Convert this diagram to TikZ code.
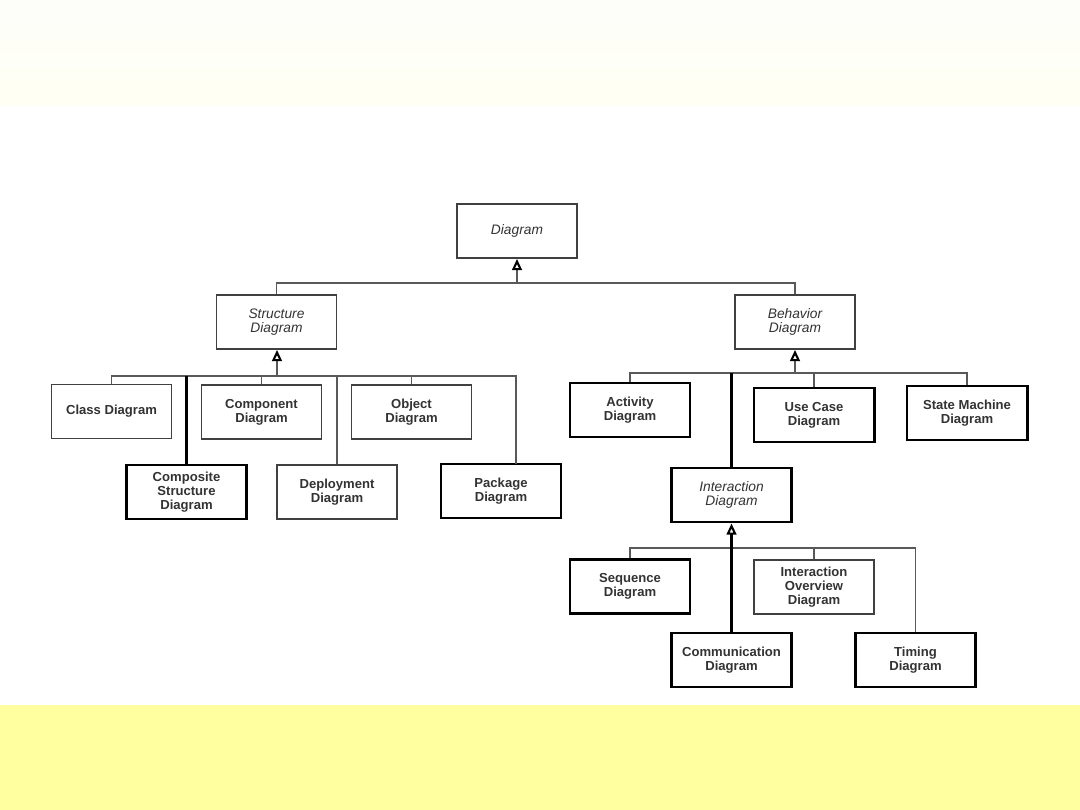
\documentclass[tikz,border=0pt]{standalone}
\usepackage{fontspec}
\setmainfont{Liberation Sans}
\usetikzlibrary{arrows.meta}

\definecolor{bandtop}{RGB}{253,254,250}
\definecolor{bandlow}{RGB}{255,255,243}
\definecolor{notebar}{RGB}{255,255,160}

\begin{document}
\begin{tikzpicture}[
    x=0.025cm, y=-0.025cm,
    diag/.style={draw=black!75, line width=1.3pt, fill=white, minimum width=3cm, minimum height=1.35cm,
                 inner sep=1pt, align=center, text=black!80, font=\fontsize{9.3}{10.2}\selectfont\bfseries},
    abstract/.style={diag, font=\fontsize{9.8}{10.2}\selectfont\itshape},
    heavy/.style={diag, draw=black, line width=2.1pt},
    link/.style={draw=black!65, line width=1.2pt},
    strong/.style={draw=black, line width=2.1pt},
    inherit/.style={-{Triangle[open, length=8pt, width=7pt, line width=1.5pt, color=black]}}
]
    % page bands
    \useasboundingbox (0,0) rectangle (1080,810);
    \shade[top color=bandtop, bottom color=bandlow] (0,0) rectangle (1080,105);
    \fill[notebar] (0,705) rectangle (1080,810);

    % top levels
    \node[abstract] (diagram) at (517,231) {Diagram};
    \node[abstract] (structure) at (276.5,322) {Structure\\Diagram};
    \node[abstract] (behavior) at (795,322) {Behavior\\Diagram};

    % structure diagrams
    \node[diag] (class) at (111.5,411.5) {Class Diagram};
    \node[diag] (component) at (261.5,412) {Component\\Diagram};
    \node[diag] (object) at (411.5,412) {Object\\Diagram};
    \node[heavy] (composite) at (186.5,492) {Composite\\Structure\\Diagram};
    \node[diag] (deployment) at (337,492) {Deployment\\Diagram};
    \node[heavy] (package) at (501,491) {Package\\Diagram};

    % behavior diagrams
    \node[heavy] (activity) at (630,410) {Activity\\Diagram};
    \node[heavy] (usecase) at (814,415) {Use Case\\Diagram};
    \node[heavy] (statemachine) at (967,413) {State Machine\\Diagram};
    \node[abstract, draw=black, line width=2.1pt] (interaction) at (731.5,495) {Interaction\\Diagram};

    % interaction diagrams
    \node[heavy] (sequence) at (630,586.5) {Sequence\\Diagram};
    \node[diag] (overview) at (814,587) {Interaction\\Overview\\Diagram};
    \node[heavy] (communication) at (731.5,660) {Communication\\Diagram};
    \node[heavy] (timing) at (915.5,660) {Timing\\Diagram};

    % generalization buses
    \coordinate (db) at (517,283);
    \coordinate (sb) at (277,376);
    \coordinate (bb) at (795,373);
    \coordinate (ib) at (732,548);
    \coordinate (pk) at (516,464);

    \draw[link] (structure.north) |- (db) -| (behavior.north);
    \draw[link, inherit] (db) -- (diagram.south);

    \draw[link] (class.north) |- (sb -| pk) -- (pk);
    \draw[link, inherit] (sb) -- (structure.south -| sb);
    \draw[link] (component.north) -- (component.north |- sb);
    \draw[link] (object.north) -- (object.north |- sb);
    \draw[link] (deployment.north) -- (deployment.north |- sb);
    \draw[strong] (composite.north) -- (composite.north |- sb);

    \draw[link] (activity.north) |- (bb) -| (statemachine.north);
    \draw[link, inherit] (bb) -- (behavior.south);
    \draw[link] (usecase.north) -- (usecase.north |- bb);
    \draw[strong] (interaction.north) -- (interaction.north |- bb);

    \draw[link] (sequence.north) |- (ib) -| (timing.north);
    \draw[link] (overview.north) -- (overview.north |- ib);
    \draw[strong, inherit] (communication.north) -- (interaction.south);
\end{tikzpicture}
\end{document}
